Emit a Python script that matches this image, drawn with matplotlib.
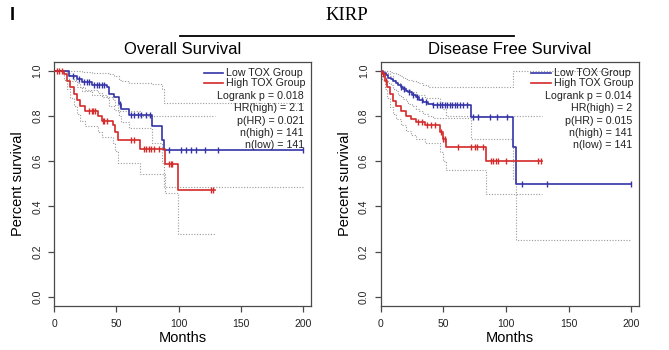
import matplotlib
matplotlib.use("Agg")
import matplotlib.pyplot as plt
from matplotlib.lines import Line2D

plt.rcParams['font.family'] = ['Liberation Sans', 'DejaVu Sans']

# Overall survival, low TOX group
os_low_t = [0, 11.5, 18, 22, 30, 42, 44, 48, 52, 54, 60, 78.5, 86.5, 88.5]
os_low_s = [1.0, 0.978, 0.963, 0.949, 0.938, 0.927, 0.897, 0.882, 0.853, 0.831, 0.806, 0.755, 0.692, 0.648]
os_low_hi = [1.0, 1.0, 0.998, 0.995, 0.992, 0.99, 0.985, 0.975, 0.96, 0.955, 0.945, 0.94, 0.92, 0.857]
os_low_lo = [1.0, 0.955, 0.93, 0.91, 0.895, 0.88, 0.845, 0.825, 0.80, 0.775, 0.745, 0.68, 0.59, 0.486]
os_low_end = 200
os_low_cens = [15, 20, 24, 26, 28, 32, 34, 36, 38, 40, 53, 62, 64, 67, 70, 74, 77,
               92, 102, 106, 110, 114, 121, 132, 200]

# Overall survival, high TOX group
os_high_t = [0, 7.5, 10, 13, 15.5, 18, 21, 25, 35.5, 38.5, 47.5, 49, 51.5, 69, 89, 99.5]
os_high_s = [1.0, 0.985, 0.956, 0.927, 0.897, 0.871, 0.846, 0.824, 0.802, 0.780, 0.758, 0.729, 0.692, 0.655, 0.586, 0.471]
os_high_hi = [1.0, 1.0, 0.99, 0.975, 0.96, 0.945, 0.93, 0.915, 0.90, 0.885, 0.87, 0.85, 0.82, 0.80, 0.80, 0.80]
os_high_lo = [1.0, 0.96, 0.92, 0.88, 0.845, 0.81, 0.78, 0.755, 0.73, 0.705, 0.68, 0.645, 0.59, 0.545, 0.46, 0.28]
os_high_end = 129.5
os_high_cens = [2, 4, 6, 28, 30, 31, 33, 39, 40, 42, 62, 64, 72, 74, 76, 78, 80, 84,
                92, 94, 95, 126, 128]

# Disease free survival, low TOX group
dfs_low_t = [0, 2, 4, 6, 8, 10, 12, 14, 16, 18, 20, 22, 25, 28, 31, 34, 38, 42, 72, 106, 108]
dfs_low_s = [1.0, 0.99, 0.98, 0.97, 0.962, 0.954, 0.946, 0.937, 0.928, 0.92, 0.912, 0.904,
             0.895, 0.883, 0.872, 0.862, 0.855, 0.848, 0.797, 0.665, 0.50]
dfs_low_hi = [1.0, 1.0, 1.0, 1.0, 0.995, 0.99, 0.985, 0.98, 0.975, 0.97, 0.965, 0.96,
              0.955, 0.95, 0.945, 0.935, 0.93, 0.928, 0.926, 1.0, 1.0]
dfs_low_lo = [1.0, 0.975, 0.96, 0.945, 0.935, 0.92, 0.91, 0.895, 0.885, 0.875, 0.865, 0.855,
              0.845, 0.83, 0.82, 0.81, 0.80, 0.79, 0.70, 0.52, 0.25]
dfs_low_end = 200
dfs_low_cens = [16, 19, 23, 26, 29, 33, 36, 42, 45, 47, 49, 51, 53, 55, 57, 59, 61, 63, 66, 69,
                74, 78, 87, 93, 101, 113, 133, 200]

# Disease free survival, high TOX group
dfs_high_t = [0, 1, 3.2, 5.3, 7.2, 9.8, 12.5, 16.5, 20.5, 24.5, 28.5, 35.2, 47.2, 49.8, 52.5, 84.5]
dfs_high_s = [1.0, 0.985, 0.956, 0.927, 0.897, 0.868, 0.846, 0.824, 0.802, 0.787, 0.773,
              0.758, 0.729, 0.70, 0.665, 0.603]
dfs_high_hi = [1.0, 1.0, 1.0, 0.99, 0.975, 0.96, 0.945, 0.93, 0.915, 0.905, 0.895, 0.88,
               0.86, 0.83, 0.80, 0.80]
dfs_high_lo = [1.0, 0.96, 0.92, 0.88, 0.84, 0.81, 0.785, 0.76, 0.735, 0.715, 0.70, 0.68,
               0.64, 0.60, 0.56, 0.457]
dfs_high_end = 128.5
dfs_high_cens = [2, 4, 30, 33, 37, 40, 43, 48, 50, 51, 62, 72, 75, 77, 82,
                 88, 90, 92, 94, 100, 126, 128]

os_stats = ["Logrank p = 0.018", "HR(high) = 2.1", "p(HR) = 0.021", "n(high) = 141", "n(low) = 141"]
dfs_stats = ["Logrank p = 0.014", "HR(high) = 2", "p(HR) = 0.015", "n(high) = 141", "n(low) = 141"]
group_names = ["Low TOX Group", "High TOX Group"]

BLUE = "#3434a8"
RED = "#d42a2a"
CI_COL = "#9a9a9a"
AX_COL = "#4a4a4a"


def km_at(times, surv, when):
    # survival value of a step curve at a given time
    val = surv[0]
    for t, s in zip(times, surv):
        if t <= when:
            val = s
    return val


def draw_group(ax, times, surv, hi, lo, end, cens, color):
    tt = list(times) + [end]
    ax.step(tt, list(hi) + [hi[-1]], where="post", color=CI_COL, lw=0.8, ls=(0, (1, 1.5)), zorder=1)
    ax.step(tt, list(lo) + [lo[-1]], where="post", color=CI_COL, lw=0.8, ls=(0, (1, 1.5)), zorder=1)
    ax.step(tt, list(surv) + [surv[-1]], where="post", color=color, lw=1.2, zorder=3)
    cy = [km_at(times, surv, c) for c in cens]
    ax.plot(cens, cy, ls="none", marker="|", ms=5, mew=1.0, color=color, zorder=4)


def draw_panel(ax, low, high, stats):
    draw_group(ax, *low, BLUE)
    draw_group(ax, *high, RED)
    ax.set_xlim(0, 206.5)
    ax.set_ylim(-0.04, 1.04)
    ax.set_xticks([0, 50, 100, 150, 200])
    ax.set_xticklabels(["0", "50", "100", "150", "200"], fontsize=7.5)
    ax.set_yticks([0, 0.2, 0.4, 0.6, 0.8, 1.0])
    ax.set_yticklabels(["0.0", "0.2", "0.4", "0.6", "0.8", "1.0"], fontsize=7.5,
                       rotation=90, va="center")
    ax.tick_params(colors=AX_COL, labelcolor="#222222", length=4.5, width=0.9)
    ax.tick_params(axis="y", pad=4)
    ax.tick_params(axis="x", pad=5)
    for sp in ax.spines.values():
        sp.set_color(AX_COL)
        sp.set_linewidth(0.9)

    # legend drawn by hand, R style without a frame
    ys = [0.9525, 0.9116]
    for name, col, y in zip(group_names, [BLUE, RED], ys):
        ax.add_line(Line2D([0.582, 0.657], [y, y], transform=ax.transAxes, color=col, lw=1.2))
        ax.text(0.67, y, name, transform=ax.transAxes, fontsize=7.7, va="center", ha="left",
                color="#222222")
    for txt, y in zip(stats, [0.861, 0.809, 0.759, 0.709, 0.657]):
        ax.text(0.972, y, txt, transform=ax.transAxes, fontsize=7.7, va="center", ha="right",
                color="#222222")


fig = plt.figure(figsize=(6.69, 3.5), dpi=100)
ax1 = fig.add_axes([0.0812, 0.1257, 0.3837, 0.698])
ax2 = fig.add_axes([0.569, 0.1257, 0.3866, 0.698])

draw_panel(ax1,
           (os_low_t, os_low_s, os_low_hi, os_low_lo, os_low_end, os_low_cens),
           (os_high_t, os_high_s, os_high_hi, os_high_lo, os_high_end, os_high_cens),
           os_stats)
draw_panel(ax2,
           (dfs_low_t, dfs_low_s, dfs_low_hi, dfs_low_lo, dfs_low_end, dfs_low_cens),
           (dfs_high_t, dfs_high_s, dfs_high_hi, dfs_high_lo, dfs_high_end, dfs_high_cens),
           dfs_stats)

W, H = 669.0, 350.0
fig.text(182.7 / W, 1 - 49 / H, "Overall Survival", ha="center", va="center", fontsize=12)
fig.text(510 / W, 1 - 49 / H, "Disease Free Survival", ha="center", va="center", fontsize=12)
fig.text(18 / W, 1 - 184 / H, "Percent survival", ha="center", va="center", rotation=90, fontsize=10.5)
fig.text(345 / W, 1 - 184 / H, "Percent survival", ha="center", va="center", rotation=90, fontsize=10.5)
fig.text(182.7 / W, 1 - 338 / H, "Months", ha="center", va="center", fontsize=10.5)
fig.text(510 / W, 1 - 338 / H, "Months", ha="center", va="center", fontsize=10.5)

fig.text(347 / W, 1 - 16 / H, "KIRP", ha="center", va="center", fontsize=13.5,
         family=["Liberation Serif", "DejaVu Serif"])
fig.add_artist(Line2D([180 / W, 514 / W], [1 - 36 / H, 1 - 36 / H], color="black", lw=1.3))
fig.text(12 / W, 1 - 16 / H, "I", ha="center", va="center", fontsize=13, fontweight="bold")

fig.savefig("out.png", dpi=100)
